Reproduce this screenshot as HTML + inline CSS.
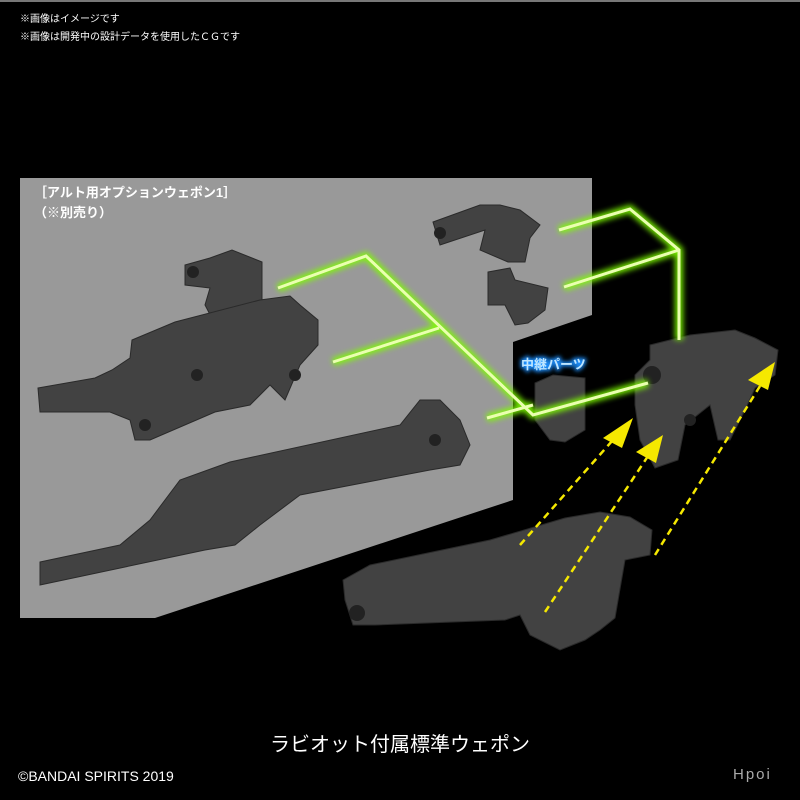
<!DOCTYPE html>
<html><head><meta charset="utf-8"><style>
html,body{margin:0;padding:0;background:#000;width:800px;height:800px;overflow:hidden}
svg{display:block}
text{font-family:"Liberation Sans","Noto Sans CJK JP",sans-serif}
</style></head><body>
<svg width="800" height="800" viewBox="0 0 800 800" xmlns="http://www.w3.org/2000/svg">
<defs>
<filter id="glow" x="-20%" y="-20%" width="140%" height="140%"><feGaussianBlur stdDeviation="3"/></filter>
<filter id="bglow" x="-20%" y="-50%" width="140%" height="200%"><feGaussianBlur stdDeviation="2"/></filter>
</defs>
<rect width="800" height="800" fill="#000"/>
<rect x="0" y="0" width="800" height="2" fill="#777"/>
<text x="20" y="22" fill="#fff" font-size="10">※画像はイメージです</text>
<text x="20" y="40" fill="#fff" font-size="10">※画像は開発中の設計データを使用したＣＧです</text>

<polygon points="20,178 592,178 592,315 513,342 513,500 155,618 20,618" fill="#999"/>
<text x="34" y="197" fill="#fff" font-size="13" font-weight="bold">［アルト用オプションウェポン1］</text>
<text x="34" y="217" fill="#fff" font-size="13" font-weight="bold">（※別売り）</text>

<g fill="#424242" stroke="#2a2a2a" stroke-width="1">
<polygon points="185,265 210,258 232,250 262,262 262,305 247,318 218,330 205,305 210,288 185,285"/>
<polygon points="433,222 480,205 500,205 520,210 540,225 530,238 525,262 508,262 480,250 485,230 440,245"/>
<polygon points="488,272 510,268 515,280 548,288 545,310 528,323 515,325 505,305 488,305"/>
<!-- rifle 1 -->
<polygon points="38,388 95,378 112,370 130,358 132,340 175,322 260,300 290,296 300,305 318,320 318,345 300,365 285,400 270,385 250,405 215,412 150,440 135,440 130,420 110,412 40,412"/>
<!-- rifle 2 -->
<polygon points="40,562 120,545 150,520 180,480 230,462 400,425 420,400 440,400 460,420 470,445 460,465 430,470 300,495 260,525 235,545 205,550 40,585"/>
<polygon points="535,383 553,375 585,378 585,430 565,442 550,440 535,420"/>
<!-- upper right gun -->
<polygon points="650,345 690,335 735,330 755,338 778,350 775,375 755,388 745,410 730,440 718,440 710,405 685,425 678,460 655,468 640,440 635,405 635,375 650,360"/>
<!-- lower gun -->
<polygon points="343,580 370,565 490,540 565,518 600,512 630,517 652,530 650,555 625,560 615,618 600,630 585,640 560,650 530,635 520,615 505,620 375,625 353,625 345,600"/>
</g>
<g fill="#222">
<circle cx="357" cy="613" r="8"/><circle cx="193" cy="272" r="6"/><circle cx="440" cy="233" r="6"/>
<circle cx="652" cy="375" r="9"/><circle cx="690" cy="420" r="6"/><circle cx="295" cy="375" r="6"/><circle cx="197" cy="375" r="6"/>
<circle cx="145" cy="425" r="6"/><circle cx="435" cy="440" r="6"/>
</g>

<g fill="none" stroke-linejoin="miter" stroke-linecap="butt">
<g stroke="#7fff00" stroke-width="8" filter="url(#glow)" opacity="0.9">
<polyline points="278,288 366,256 533,415 648,383"/>
<polyline points="333,362 439,328"/>
<polyline points="487,418 533,405"/>
<polyline points="559,230 630,209 679,250 679,340"/>
<polyline points="564,287 679,250"/>
</g>
<g stroke="#eaffb0" stroke-width="3">
<polyline points="278,288 366,256 533,415 648,383"/>
<polyline points="333,362 439,328"/>
<polyline points="487,418 533,405"/>
<polyline points="559,230 630,209 679,250 679,340"/>
<polyline points="564,287 679,250"/>
</g>
</g>

<text x="521" y="369" fill="#1e90ff" font-size="13" font-weight="bold" stroke="#1e90ff" stroke-width="3" filter="url(#bglow)">中継パーツ</text>
<text x="521" y="369" fill="#bfe6ff" font-size="13" font-weight="bold">中継パーツ</text>

<g stroke="#f5e800" stroke-width="2.5" stroke-dasharray="7,5" fill="none">
<line x1="520" y1="545" x2="620" y2="432"/>
<line x1="545" y1="612" x2="652" y2="450"/>
<line x1="655" y1="555" x2="765" y2="378"/>
</g>
<g fill="#f5e800">
<polygon points="633,418 603,438 622,448"/>
<polygon points="663,435 636,452 656,463"/>
<polygon points="775,362 748,380 768,390"/>
</g>

<text x="400" y="751" fill="#fff" font-size="20" text-anchor="middle">ラビオット付属標準ウェポン</text>
<text x="18" y="781" fill="#fff" font-size="14">©BANDAI SPIRITS 2019</text>
<text x="733" y="779" fill="#aaa" font-size="15" letter-spacing="2">Hpoi</text>
</svg>
</body></html>
